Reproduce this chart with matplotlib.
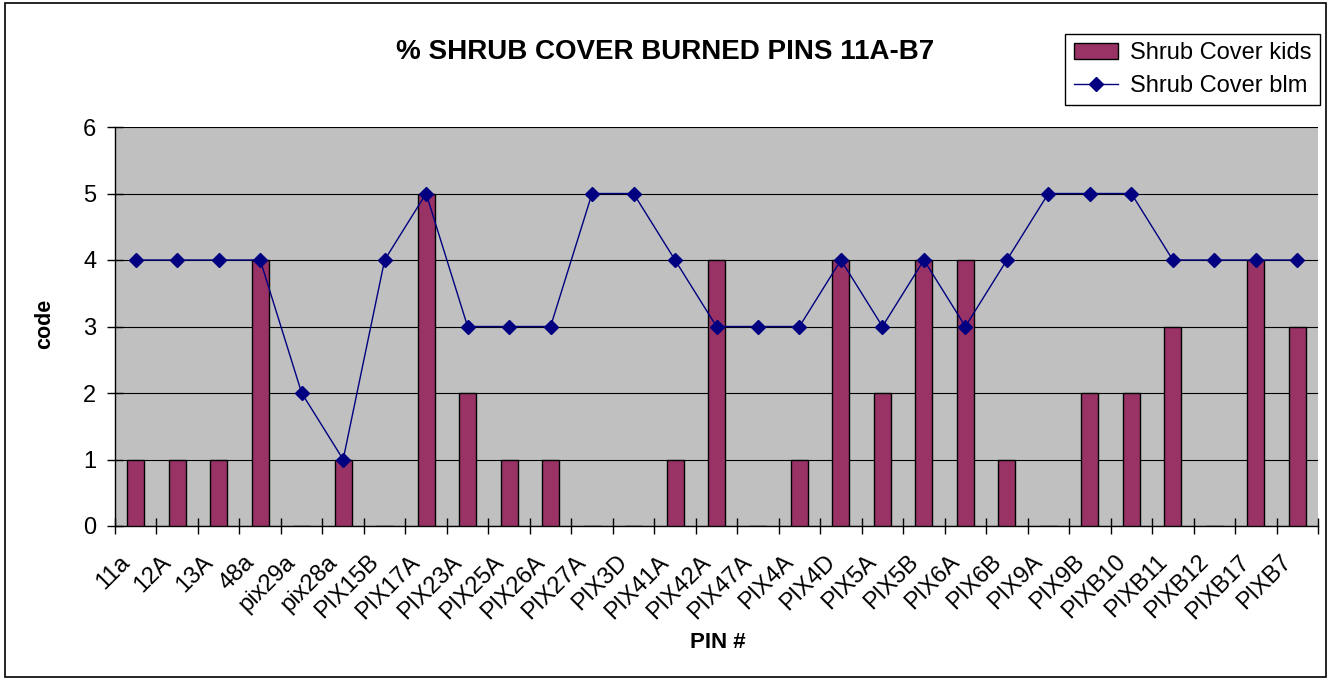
import numpy as np
import matplotlib

matplotlib.use('Agg')
import matplotlib.pyplot as plt
from matplotlib.patches import Rectangle
from matplotlib.transforms import ScaledTranslation

plt.rcParams['font.family'] = ['Liberation Sans', 'DejaVu Sans']

# --- data ---
pins = ["11a", "12A", "13A", "48a", "pix29a", "pix28a", "PIX15B", "PIX17A",
        "PIX23A", "PIX25A", "PIX26A", "PIX27A", "PIX3D", "PIX41A", "PIX42A",
        "PIX47A", "PIX4A", "PIX4D", "PIX5A", "PIX5B", "PIX6A", "PIX6B",
        "PIX9A", "PIX9B", "PIXB10", "PIXB11", "PIXB12", "PIXB17", "PIXB7"]
kids = [1, 1, 1, 4, 0, 1, 0, 5, 2, 1, 1, 0, 0, 1, 4, 0, 1, 4, 2, 4, 4, 1,
        0, 2, 2, 3, 0, 4, 3]
blm = [4, 4, 4, 4, 2, 1, 4, 5, 3, 3, 3, 5, 5, 4, 3, 3, 3, 4, 3, 4, 3, 4,
       5, 5, 5, 4, 4, 4, 4]
yticks = [0, 1, 2, 3, 4, 5, 6]


def main():
    W, H = 1328, 680
    fig = plt.figure(figsize=(W / 100, H / 100), dpi=100)
    fig.patch.set_facecolor('white')
    # black frame round the whole chart
    fig.patches.append(Rectangle((5 / W, 3 / H), 1 - 7 / W, 1 - 6 / H,
                                 transform=fig.transFigure, fill=False,
                                 edgecolor='black', linewidth=1.2))

    # plot area in pixels: x 115..1318, y 127..526
    ax = fig.add_axes([115 / W, 1 - 526 / H, (1318 - 115) / W, (526 - 127) / H])
    ax.set_facecolor('#C0C0C0')

    x = np.arange(len(pins))
    bars = ax.bar(x, kids, width=0.41, color='#993366', edgecolor='black',
                  linewidth=1.0, zorder=3, label='Shrub Cover kids')
    line, = ax.plot(x, blm, color='#000080', marker='D', markersize=7.5,
                    linewidth=1.0, zorder=4, label='Shrub Cover blm')

    ax.set_xlim(-0.5, len(pins) - 0.5)
    ax.set_ylim(0, 6)
    ax.set_yticks(yticks)
    ax.yaxis.grid(True, color='black', linewidth=0.8, zorder=1)
    ax.set_axisbelow(True)

    # ticks sit on category boundaries, labels at category centres
    ax.set_xticks(np.arange(len(pins) + 1) - 0.5)
    ax.set_xticklabels([])
    ax.set_xticks(x, minor=True)
    ax.set_xticklabels(pins, minor=True, rotation=45, ha='right',
                       va='top', rotation_mode='anchor', fontsize=17)
    ax.tick_params(axis='x', which='minor', length=0, pad=18)
    ax.tick_params(axis='x', which='major', direction='inout', length=11,
                   width=1)
    ax.tick_params(axis='y', direction='inout', length=11, width=1,
                   labelsize=17, pad=8)
    off = ScaledTranslation(-17 / 100, 0, fig.dpi_scale_trans)
    for lbl in ax.get_xticklabels(minor=True):
        lbl.set_transform(lbl.get_transform() + off)

    for side in ['top', 'right']:
        ax.spines[side].set_visible(False)
    ax.spines['left'].set_linewidth(1)
    ax.spines['bottom'].set_linewidth(1)

    fig.text(45 / W, 1 - 324 / H, 'code', rotation=90, ha='center',
             va='center', fontsize=15.5, fontweight='bold')
    fig.text(718 / W, 1 - 643 / H, 'PIN #', ha='center', va='center',
             fontsize=16, fontweight='bold')
    fig.text(665 / W, 1 - 52 / H, '% SHRUB COVER BURNED PINS 11A-B7',
             ha='center', va='center', fontsize=20, fontweight='bold')

    leg = fig.legend([bars, line], ['Shrub Cover kids', 'Shrub Cover blm'],
                     loc='upper right', bbox_to_anchor=(1320 / W, 1 - 34 / H),
                     fontsize=17, frameon=True, fancybox=False,
                     edgecolor='black', framealpha=1, borderpad=0.35,
                     handlelength=1.9, handletextpad=0.5, labelspacing=0.45,
                     borderaxespad=0)
    leg.get_frame().set_linewidth(1)

    fig.savefig('out.png', dpi=100)
    plt.close(fig)


if __name__ == "__main__":
    main()
